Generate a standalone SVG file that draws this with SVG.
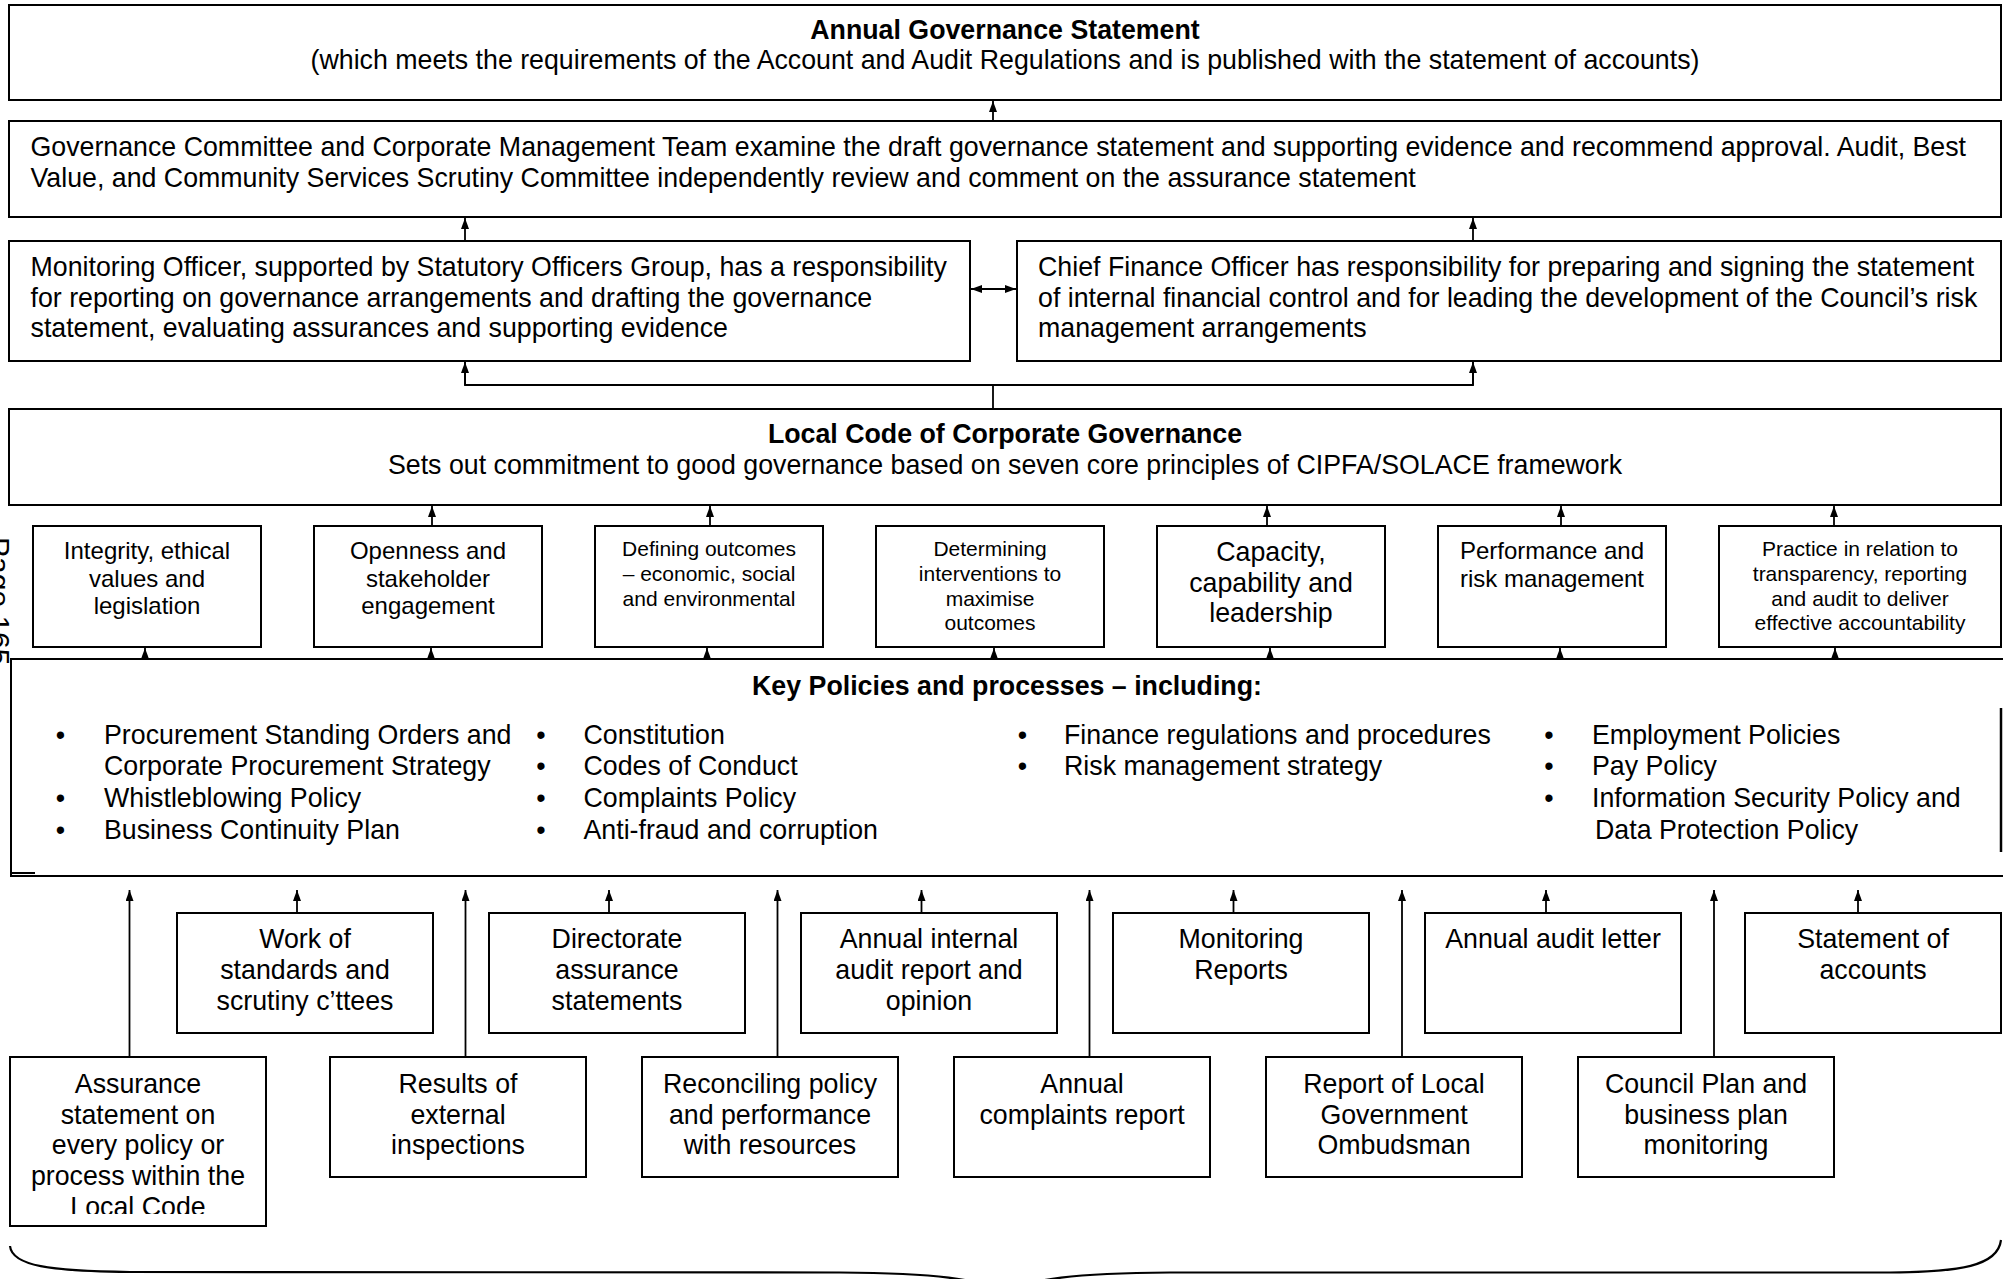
<svg xmlns="http://www.w3.org/2000/svg" width="2003" height="1279" viewBox="0 0 2003 1279">
<style>
.box{fill:#fff;stroke:#000;stroke-width:2}
.ln{fill:none;stroke:#000;stroke-width:1.8}
.t{font-family:"Liberation Sans",Arial,sans-serif;font-size:26.75px;fill:#000}
.b{font-weight:bold}
.c{text-anchor:middle}
.s24{font-size:24px}
.s21{font-size:21px}
</style>
<defs>
<marker id="ah" markerWidth="11" markerHeight="8" refX="11" refY="4" orient="auto-start-reverse" markerUnits="userSpaceOnUse">
<path d="M0,0 L11,4 L0,8 z" fill="#000"/>
</marker>
<clipPath id="clipA"><rect x="0" y="1057" width="300" height="157"/></clipPath>
</defs>
<rect width="2003" height="1279" fill="#fff"/>

<text class="t" transform="translate(-11,537) rotate(90)" style="font-size:30px">Page 165</text>

<g id="connectors">
<line class="ln" x1="993" y1="121" x2="993" y2="101" marker-end="url(#ah)"/>
<line class="ln" x1="465" y1="241" x2="465" y2="218" marker-end="url(#ah)"/>
<line class="ln" x1="1473" y1="241" x2="1473" y2="218" marker-end="url(#ah)"/>
<line class="ln" x1="971" y1="289" x2="1016" y2="289" marker-start="url(#ah)" marker-end="url(#ah)"/>
<polyline class="ln" points="993,409 993,385"/>
<polyline class="ln" points="465,362 465,385 1473,385 1473,362"/>
<line class="ln" x1="465" y1="385" x2="465" y2="362" marker-end="url(#ah)"/>
<line class="ln" x1="1473" y1="385" x2="1473" y2="362" marker-end="url(#ah)"/>
<line class="ln" x1="432" y1="526" x2="432" y2="506" marker-end="url(#ah)"/>
<line class="ln" x1="710" y1="526" x2="710" y2="506" marker-end="url(#ah)"/>
<line class="ln" x1="1267" y1="526" x2="1267" y2="506" marker-end="url(#ah)"/>
<line class="ln" x1="1561" y1="526" x2="1561" y2="506" marker-end="url(#ah)"/>
<line class="ln" x1="1834" y1="526" x2="1834" y2="506" marker-end="url(#ah)"/>
<line class="ln" x1="145" y1="659" x2="145" y2="648" marker-end="url(#ah)"/>
<line class="ln" x1="431" y1="659" x2="431" y2="648" marker-end="url(#ah)"/>
<line class="ln" x1="707" y1="659" x2="707" y2="648" marker-end="url(#ah)"/>
<line class="ln" x1="994" y1="659" x2="994" y2="648" marker-end="url(#ah)"/>
<line class="ln" x1="1270" y1="659" x2="1270" y2="648" marker-end="url(#ah)"/>
<line class="ln" x1="1560" y1="659" x2="1560" y2="648" marker-end="url(#ah)"/>
<line class="ln" x1="1835" y1="659" x2="1835" y2="648" marker-end="url(#ah)"/>
<line class="ln" x1="297" y1="913" x2="297" y2="890" marker-end="url(#ah)"/>
<line class="ln" x1="609" y1="913" x2="609" y2="890" marker-end="url(#ah)"/>
<line class="ln" x1="921.5" y1="913" x2="921.5" y2="890" marker-end="url(#ah)"/>
<line class="ln" x1="1233.5" y1="913" x2="1233.5" y2="890" marker-end="url(#ah)"/>
<line class="ln" x1="1546" y1="913" x2="1546" y2="890" marker-end="url(#ah)"/>
<line class="ln" x1="1858" y1="913" x2="1858" y2="890" marker-end="url(#ah)"/>
<line class="ln" x1="129.5" y1="1057" x2="129.5" y2="890" marker-end="url(#ah)"/>
<line class="ln" x1="465.5" y1="1057" x2="465.5" y2="890" marker-end="url(#ah)"/>
<line class="ln" x1="777.5" y1="1057" x2="777.5" y2="890" marker-end="url(#ah)"/>
<line class="ln" x1="1089.5" y1="1057" x2="1089.5" y2="890" marker-end="url(#ah)"/>
<line class="ln" x1="1402" y1="1057" x2="1402" y2="890" marker-end="url(#ah)"/>
<line class="ln" x1="1714" y1="1057" x2="1714" y2="890" marker-end="url(#ah)"/>
</g>

<g id="ags">
<rect class="box" x="9" y="5" width="1992" height="95"/>
<text class="t b c" x="1005" y="38.5">Annual Governance Statement</text>
<text class="t c" x="1005" y="69">(which meets the requirements of the Account and Audit Regulations and is published with the statement of accounts)</text>
</g>

<g id="committee">
<rect class="box" x="9" y="121" width="1992" height="96"/>
<text class="t" x="30.5" y="156">Governance Committee and Corporate Management Team examine the draft governance statement and supporting evidence and recommend approval. Audit, Best</text>
<text class="t" x="30.5" y="186.6">Value, and Community Services Scrutiny Committee independently review and comment on the assurance statement</text>
</g>

<g id="monitoring-officer">
<rect class="box" x="9" y="241" width="961" height="120"/>
<text class="t" x="30.5" y="276">Monitoring Officer, supported by Statutory Officers Group, has a responsibility</text>
<text class="t" x="30.5" y="306.5">for reporting on governance arrangements and drafting the governance</text>
<text class="t" x="30.5" y="337">statement, evaluating assurances and supporting evidence</text>
</g>

<g id="cfo">
<rect class="box" x="1017" y="241" width="984" height="120"/>
<text class="t" x="1038" y="276">Chief Finance Officer has responsibility for preparing and signing the statement</text>
<text class="t" x="1038" y="306.5">of internal financial control and for leading the development of the Council’s risk</text>
<text class="t" x="1038" y="337">management arrangements</text>
</g>

<g id="local-code">
<rect class="box" x="9" y="409" width="1992" height="96"/>
<text class="t b c" x="1005" y="443">Local Code of Corporate Governance</text>
<text class="t c" x="1005" y="474">Sets out commitment to good governance based on seven core principles of CIPFA/SOLACE framework</text>
</g>

<g id="p1">
<rect class="box" x="33" y="526" width="228" height="121"/>
<text class="t c s24" x="147" y="559">Integrity, ethical</text>
<text class="t c s24" x="147" y="586.5">values and</text>
<text class="t c s24" x="147" y="614">legislation</text>
</g>
<g id="p2">
<rect class="box" x="314" y="526" width="228" height="121"/>
<text class="t c s24" x="428" y="559">Openness and</text>
<text class="t c s24" x="428" y="586.5">stakeholder</text>
<text class="t c s24" x="428" y="614">engagement</text>
</g>
<g id="p3">
<rect class="box" x="595" y="526" width="228" height="121"/>
<text class="t c s21" x="709" y="555.5">Defining outcomes</text>
<text class="t c s21" x="709" y="580.5">– economic, social</text>
<text class="t c s21" x="709" y="605.5">and environmental</text>
</g>
<g id="p4">
<rect class="box" x="876" y="526" width="228" height="121"/>
<text class="t c s21" x="990" y="555.5">Determining</text>
<text class="t c s21" x="990" y="580.5">interventions to</text>
<text class="t c s21" x="990" y="605.5">maximise</text>
<text class="t c s21" x="990" y="630">outcomes</text>
</g>
<g id="p5">
<rect class="box" x="1157" y="526" width="228" height="121"/>
<text class="t c" x="1271" y="561">Capacity,</text>
<text class="t c" x="1271" y="591.5">capability and</text>
<text class="t c" x="1271" y="622">leadership</text>
</g>
<g id="p6">
<rect class="box" x="1438" y="526" width="228" height="121"/>
<text class="t c s24" x="1552" y="559">Performance and</text>
<text class="t c s24" x="1552" y="586.5">risk management</text>
</g>
<g id="p7">
<rect class="box" x="1719" y="526" width="282" height="121"/>
<text class="t c s21" x="1860" y="555.5">Practice in relation to</text>
<text class="t c s21" x="1860" y="580.5">transparency, reporting</text>
<text class="t c s21" x="1860" y="605.5">and audit to deliver</text>
<text class="t c s21" x="1860" y="630">effective accountability</text>
</g>

<g id="key-policies">
<rect x="11" y="659" width="1992" height="217" fill="#fff"/>
<path class="ln" style="stroke-width:2" d="M2003,659 H11 V876 H2003 M11,873 H35"/>
<path class="ln" style="stroke-width:2.5" d="M2001,708 V852"/>
<text class="t b c" x="1007" y="695">Key Policies and processes – including:</text>
<text class="t c" x="60.5" y="743.5">•</text>
<text class="t" x="104" y="743.5">Procurement Standing Orders and</text>
<text class="t" x="104" y="775">Corporate Procurement Strategy</text>
<text class="t c" x="60.5" y="807">•</text>
<text class="t" x="104" y="807">Whistleblowing Policy</text>
<text class="t c" x="60.5" y="839">•</text>
<text class="t" x="104" y="839">Business Continuity Plan</text>
<text class="t c" x="541" y="743.5">•</text>
<text class="t" x="583.5" y="743.5">Constitution</text>
<text class="t c" x="541" y="775">•</text>
<text class="t" x="583.5" y="775">Codes of Conduct</text>
<text class="t c" x="541" y="807">•</text>
<text class="t" x="583.5" y="807">Complaints Policy</text>
<text class="t c" x="541" y="839">•</text>
<text class="t" x="583.5" y="839">Anti-fraud and corruption</text>
<text class="t c" x="1022.5" y="743.5">•</text>
<text class="t" x="1064" y="743.5">Finance regulations and procedures</text>
<text class="t c" x="1022.5" y="775">•</text>
<text class="t" x="1064" y="775">Risk management strategy</text>
<text class="t c" x="1549" y="743.5">•</text>
<text class="t" x="1592" y="743.5">Employment Policies</text>
<text class="t c" x="1549" y="775">•</text>
<text class="t" x="1592" y="775">Pay Policy</text>
<text class="t c" x="1549" y="807">•</text>
<text class="t" x="1592" y="807">Information Security Policy and</text>
<text class="t" x="1595" y="839">Data Protection Policy</text>
</g>

<g id="u1">
<rect class="box" x="177" y="913" width="256" height="120"/>
<text class="t c" x="305" y="948">Work of</text>
<text class="t c" x="305" y="979">standards and</text>
<text class="t c" x="305" y="1009.5">scrutiny c’ttees</text>
</g>
<g id="u2">
<rect class="box" x="489" y="913" width="256" height="120"/>
<text class="t c" x="617" y="948">Directorate</text>
<text class="t c" x="617" y="979">assurance</text>
<text class="t c" x="617" y="1009.5">statements</text>
</g>
<g id="u3">
<rect class="box" x="801" y="913" width="256" height="120"/>
<text class="t c" x="929" y="948">Annual internal</text>
<text class="t c" x="929" y="979">audit report and</text>
<text class="t c" x="929" y="1009.5">opinion</text>
</g>
<g id="u4">
<rect class="box" x="1113" y="913" width="256" height="120"/>
<text class="t c" x="1241" y="948">Monitoring</text>
<text class="t c" x="1241" y="979">Reports</text>
</g>
<g id="u5">
<rect class="box" x="1425" y="913" width="256" height="120"/>
<text class="t c" x="1553" y="948">Annual audit letter</text>
</g>
<g id="u6">
<rect class="box" x="1745" y="913" width="256" height="120"/>
<text class="t c" x="1873" y="948">Statement of</text>
<text class="t c" x="1873" y="979">accounts</text>
</g>

<g id="l1">
<rect class="box" x="10" y="1057" width="256" height="169"/>
<g clip-path="url(#clipA)">
<text class="t c" x="138" y="1093">Assurance</text>
<text class="t c" x="138" y="1123.7">statement on</text>
<text class="t c" x="138" y="1154.4">every policy or</text>
<text class="t c" x="138" y="1185">process within the</text>
<text class="t c" x="138" y="1215.8">Local Code</text>
</g>
</g>
<g id="l2">
<rect class="box" x="330" y="1057" width="256" height="120"/>
<text class="t c" x="458" y="1093">Results of</text>
<text class="t c" x="458" y="1123.7">external</text>
<text class="t c" x="458" y="1154.4">inspections</text>
</g>
<g id="l3">
<rect class="box" x="642" y="1057" width="256" height="120"/>
<text class="t c" x="770" y="1093">Reconciling policy</text>
<text class="t c" x="770" y="1123.7">and performance</text>
<text class="t c" x="770" y="1154.4">with resources</text>
</g>
<g id="l4">
<rect class="box" x="954" y="1057" width="256" height="120"/>
<text class="t c" x="1082" y="1093">Annual</text>
<text class="t c" x="1082" y="1123.7">complaints report</text>
</g>
<g id="l5">
<rect class="box" x="1266" y="1057" width="256" height="120"/>
<text class="t c" x="1394" y="1093">Report of Local</text>
<text class="t c" x="1394" y="1123.7">Government</text>
<text class="t c" x="1394" y="1154.4">Ombudsman</text>
</g>
<g id="l6">
<rect class="box" x="1578" y="1057" width="256" height="120"/>
<text class="t c" x="1706" y="1093">Council Plan and</text>
<text class="t c" x="1706" y="1123.7">business plan</text>
<text class="t c" x="1706" y="1154.4">monitoring</text>
</g>

<g id="brace">
<path class="ln" style="stroke-width:2.2" d="M10,1246 C12,1266 50,1271 130,1272 L840,1272.5 C930,1273 985,1278 1004,1295 C1025,1278 1080,1273 1170,1272.5 L1890,1272.5 C1960,1272 1998,1266 2001,1240"/>
</g>
</svg>
